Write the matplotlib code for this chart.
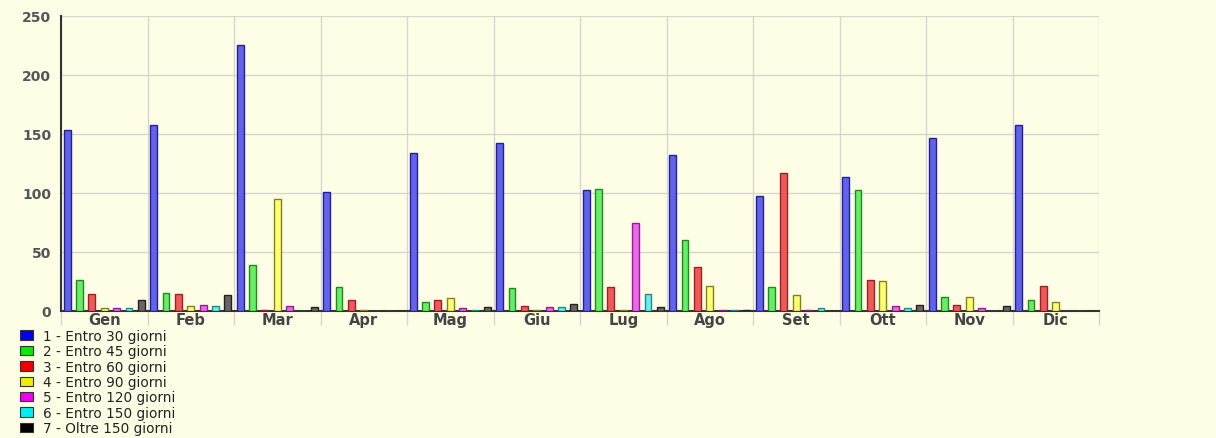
import matplotlib
matplotlib.use("Agg")
import matplotlib.pyplot as plt
from matplotlib.patches import Patch
import numpy as np

months = ["Gen", "Feb", "Mar", "Apr", "Mag", "Giu", "Lug", "Ago", "Set", "Ott", "Nov", "Dic"]
series_names = ["1 - Entro 30 giorni", "2 - Entro 45 giorni", "3 - Entro 60 giorni",
                "4 - Entro 90 giorni", "5 - Entro 120 giorni", "6 - Entro 150 giorni",
                "7 - Oltre 150 giorni"]
entro30 = [153, 157, 225, 101, 134, 142, 102, 132, 97, 113, 146, 157]
entro45 = [26, 15, 39, 20, 7, 19, 103, 60, 20, 102, 12, 9]
entro60 = [14, 14, 1, 9, 9, 4, 20, 37, 117, 26, 5, 21]
entro90 = [2, 4, 95, 1, 11, 1, 1, 21, 13, 25, 12, 7]
entro120 = [2, 5, 4, 0, 2, 3, 74, 1, 1, 4, 2, 0]
entro150 = [2, 4, 0, 0, 1, 3, 14, 1, 2, 2, 0, 0]
oltre150 = [9, 13, 3, 0, 3, 6, 3, 1, 0, 5, 4, 0]
series = [entro30, entro45, entro60, entro90, entro120, entro150, oltre150]

fills = ["#6262EA", "#66EE66", "#EE5A5A", "#FFFF70", "#EE66EE", "#66EEEE", "#666666"]
edges = ["#20209A", "#208A20", "#A02020", "#80801E", "#902090", "#208A8A", "#222222"]
legend_cols = ["#0000EE", "#00EE00", "#EE0000", "#EEEE00", "#EE00EE", "#00EEEE", "#000000"]

bg = "#FEFEE6"
W, H = 1216, 439
fig = plt.figure(figsize=(W / 100, H / 100), dpi=100, facecolor=bg)
ax = fig.add_axes([61 / W, (H - 311.7) / H, (1099 - 61) / W, (311.7 - 16.7) / H])
ax.set_facecolor(bg)

n = len(series)
slot = 1.0 / n
x = np.arange(len(months))
for k, (vals, fc, ec) in enumerate(zip(series, fills, edges)):
    ax.bar(x + slot * (k + 0.5), vals, width=slot * 0.55, color=fc, edgecolor=ec,
           linewidth=1.0, zorder=3)

ax.set_xlim(0, len(months))
ax.set_ylim(0, 250)
ax.set_xticks(np.arange(len(months) + 1))
ax.set_xticklabels([])
ax.set_xticks(x + 0.5, minor=True)
ax.set_xticklabels(months, minor=True, fontsize=10.5, fontweight="bold", color="#444444")
ax.tick_params(axis="x", which="major", length=10, color="#D6D6CE", width=1)
ax.tick_params(axis="x", which="minor", length=0, pad=1)
ax.xaxis.get_major_ticks()[0].tick1line.set_color("#333333")
ax.set_yticks(np.arange(0, 251, 50))
ax.tick_params(axis="y", length=0, pad=7, labelsize=10, labelcolor="#555555")
for t in ax.get_yticklabels():
    t.set_fontweight("bold")

ax.grid(True, which="major", color="#D6D6CE", linewidth=1, zorder=0)
ax.set_axisbelow(True)
for s in ["top", "right"]:
    ax.spines[s].set_visible(False)
ax.spines["left"].set_color("#333333")
ax.spines["left"].set_linewidth(1.5)
ax.spines["bottom"].set_color("#333333")
ax.spines["bottom"].set_linewidth(1.5)

handles = [Patch(facecolor=c, edgecolor="#333333", linewidth=0.8) for c in legend_cols]
fig.legend(handles, series_names, loc="upper left", bbox_to_anchor=(20 / W, 1 - 330 / H),
           frameon=False, fontsize=9.8, handlelength=0.95, handleheight=0.7,
           handletextpad=0.75, labelspacing=0.1, borderpad=0, borderaxespad=0,
           labelcolor="#222222")

fig.savefig("out.png", dpi=100, facecolor=bg)
